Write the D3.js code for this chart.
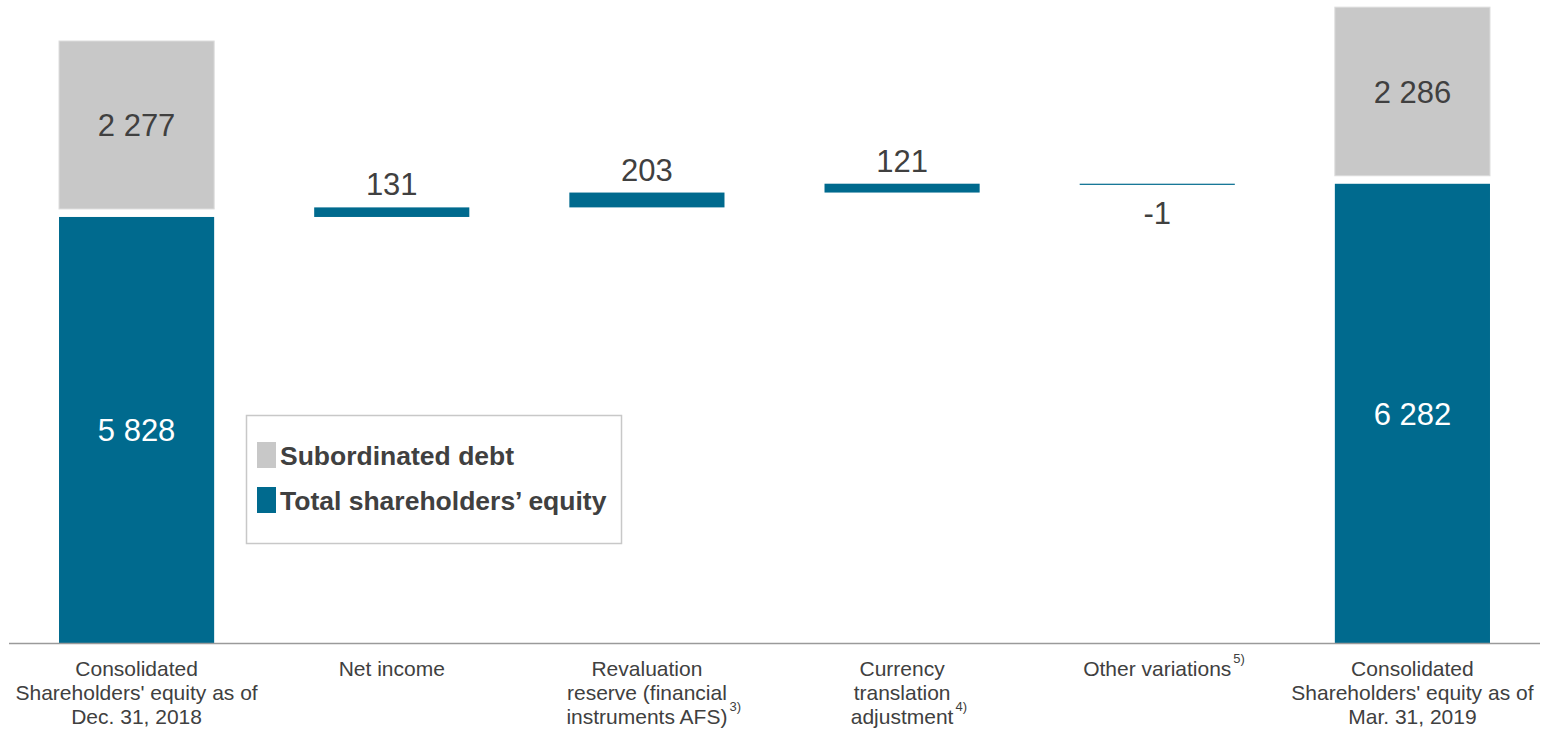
<!DOCTYPE html>
<html>
<head>
<meta charset="utf-8">
<script src="https://cdn.jsdelivr.net/npm/d3@7"></script>
<style>
  body { margin: 0; background: #fff; }
  svg { display: block; font-family: "Liberation Sans", Arial, sans-serif; }
</style>
</head>
<body>
<svg id="chart" width="1548" height="731"></svg>
<script>
// Equity bridge, Dec. 31, 2018 -> Mar. 31, 2019 (EUR m)
const categories = [
  "Consolidated\nShareholders' equity as of\nDec. 31, 2018",
  "Net income",
  "Revaluation\nreserve (financial\ninstruments AFS)",
  "Currency\ntranslation\nadjustment",
  "Other variations",
  "Consolidated\nShareholders' equity as of\nMar. 31, 2019"
];
const footnotes = ["", "", "3)", "4)", "5)", ""];

const openingEquity = 5828;
const closingEquity = 6282;
const openingSubDebt = 2277;
const closingSubDebt = 2286;
const movements = [131, 203, 121, -1];   // Net income, revaluation, FX, other

const seriesNames = ["Subordinated debt", "Total shareholders\u2019 equity"];
const seriesColors = ["#c8c8c8", "#006a8e"];

const fmt = v => {
  const s = d3.format(",")(Math.abs(v)).replace(/,/g, " ");
  return (v < 0 ? "-" : "") + s;
};

const svg = d3.select("#chart");
const textColor = "#404040";
const baseY = 643;

const x = d3.scaleBand()
  .domain(categories)
  .range([9, 1540])
  .paddingInner(0.392)
  .paddingOuter(0.196);

const y = d3.scaleLinear().domain([0, 8796]).range([baseY, 0]);
const gap = 8;

// ---- stacked end bars ----
const endBars = [
  { cat: categories[0], equity: openingEquity, debt: openingSubDebt },
  { cat: categories[5], equity: closingEquity, debt: closingSubDebt }
];

endBars.forEach(b => {
  const x0 = x(b.cat), w = x.bandwidth();
  const eqTop = y(b.equity);
  svg.append("rect")
    .attr("x", x0).attr("y", eqTop)
    .attr("width", w).attr("height", baseY - eqTop)
    .attr("fill", seriesColors[1]);
  const debtH = (y(0) - y(b.debt)) + 1.5;
  const debtBottom = eqTop - gap;
  svg.append("rect")
    .attr("x", x0).attr("y", debtBottom - debtH)
    .attr("width", w).attr("height", debtH)
    .attr("fill", seriesColors[0])
    .attr("stroke", "#dcdcdc").attr("stroke-width", 1);
  svg.append("text")
    .attr("x", x0 + w / 2).attr("y", (eqTop + baseY) / 2)
    .attr("dy", "0.36em")
    .attr("text-anchor", "middle")
    .attr("font-size", 31).attr("fill", "#fff")
    .text(fmt(b.equity));
  svg.append("text")
    .attr("x", x0 + w / 2).attr("y", debtBottom - debtH / 2)
    .attr("dy", "0.36em")
    .attr("text-anchor", "middle")
    .attr("font-size", 31).attr("fill", textColor)
    .text(fmt(b.debt));
});

// ---- floating movement bars ----
let running = openingEquity;
movements.forEach((d, i) => {
  const cat = categories[i + 1];
  const from = running, to = running + d;
  running = to;
  const top = y(Math.max(from, to));
  const bottom = y(Math.min(from, to));
  const h = Math.max(1.2, bottom - top);
  const x0 = x(cat), w = x.bandwidth();
  svg.append("rect")
    .attr("x", x0).attr("y", top)
    .attr("width", w).attr("height", h)
    .attr("fill", seriesColors[1]);
  svg.append("text")
    .attr("x", x0 + w / 2)
    .attr("y", d >= 0 ? top - 12 : top + h + 39)
    .attr("text-anchor", "middle")
    .attr("font-size", 31).attr("fill", textColor)
    .text(fmt(d));
});

// ---- category axis ----
svg.append("line")
  .attr("x1", 9).attr("x2", 1540)
  .attr("y1", baseY + 0.5).attr("y2", baseY + 0.5)
  .attr("stroke", "#9a9a9a").attr("stroke-width", 1.5);

categories.forEach((c, i) => {
  const cx = x(c) + x.bandwidth() / 2;
  const lines = c.split("\n");
  const t = svg.append("text")
    .attr("text-anchor", "middle")
    .attr("font-size", 21).attr("fill", textColor);
  lines.forEach((ln, j) => {
    t.append("tspan").attr("x", cx).attr("y", baseY + 33 + j * 24).text(ln);
  });
  if (footnotes[i]) {
    const last = t.selectAll("tspan").nodes().pop();
    const bb = last.getBBox();
    svg.append("text")
      .attr("x", bb.x + bb.width + 2)
      .attr("y", baseY + 33 + (lines.length - 1) * 24 - 13)
      .attr("font-size", 13).attr("fill", textColor)
      .text(footnotes[i]);
  }
});

// ---- legend ----
const legend = svg.append("g").attr("transform", "translate(246,415)");
legend.append("rect")
  .attr("x", 0.5).attr("y", 0.5).attr("width", 375).attr("height", 128)
  .attr("fill", "#fff").attr("stroke", "#c8c8c8").attr("stroke-width", 1.5);
seriesNames.forEach((n, i) => {
  const gy = 27 + i * 45;
  legend.append("rect")
    .attr("x", 11).attr("y", gy).attr("width", 19).attr("height", 26)
    .attr("fill", seriesColors[i]);
  legend.append("text")
    .attr("x", 34).attr("y", gy + 23)
    .attr("font-size", 26.5).attr("font-weight", "bold")
    .attr("fill", textColor)
    .text(n);
});
</script>
</body>
</html>
